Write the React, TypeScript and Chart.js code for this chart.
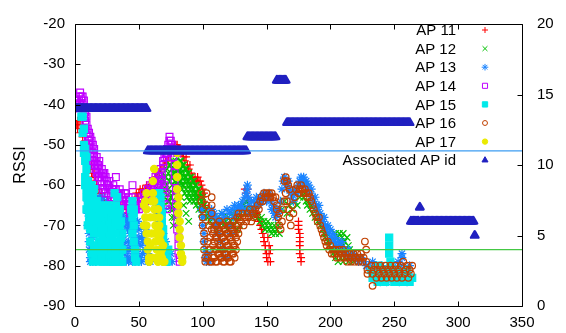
import React, { useEffect, useRef } from 'react';
import { Chart, registerables } from 'chart.js';
import { drawPoint } from 'chart.js/helpers';

Chart.register(...registerables);

// ---- data (time [s], RSSI [dBm]) ----
const ap11: [number, number][] = [
  [0,-44],[1,-45],[2,-44],[2,-46],[3,-45],[4,-44],[4,-47],[5,-46],[6,-45],[6,-48],[7,-47],
  [8,-49],[8,-51],[9,-50],[9,-53],[10,-52],[10,-55],[11,-54],[11,-50],[12,-56],[12,-53],[13,-55],[13,-58],[14,-57],[14,-60],[15,-59],[15,-56],[16,-61],[16,-58],[17,-60],[17,-62],
  [18,-61],[19,-62],[20,-63],[21,-62],[22,-64],[23,-63],[24,-65],[25,-64],[26,-66],[27,-65],[28,-64],[29,-66],[30,-65],[31,-67],[32,-66],[33,-65],[34,-67],[35,-66],[36,-65],[37,-66],[38,-67],[39,-65],[40,-66],[41,-67],[42,-66],[43,-69],[44,-66],[45,-65],
  [46,-64],[47,-63],[48,-62],[49,-63],[50,-62],[51,-61],[52,-62],[53,-61],[54,-62],[55,-61],[56,-60],[57,-61],[58,-60],[59,-61],[60,-60],[61,-59],
  [62,-59],[63,-58],[64,-58],[65,-57],[66,-57],[67,-56],[68,-56],[69,-55],[70,-55],[71,-54],[72,-54],[73,-53],[74,-52],[75,-52],[76,-51],[77,-51],[78,-50],[79,-50],[80,-50],[81,-51],[82,-51],[83,-52],
  [84,-52],[85,-53],[86,-54],[87,-53],[88,-55],[89,-56],[90,-55],[91,-57],[92,-58],[93,-59],[94,-58],[95,-59],[96,-58],[97,-59],[98,-59],
  [99,-60],[100,-61],[100,-63],[101,-62],[101,-64],[102,-65],[102,-66],
  [133,-61],[134,-62],[135,-61],[135,-63],[136,-64],
  [142,-67],[143,-68],[144,-69],[145,-70],[146,-71],[147,-72],[148,-73],[148,-74],[149,-75],[149,-76],[150,-77],[150,-78],[151,-79],[151,-73],[152,-75],[152,-77],[153,-79],[153,-76],
  [175,-69],[175,-70],[175,-71],[176,-72],[176,-73],[176,-74],[176,-75],[176,-76],[176,-77],[177,-78],[177,-79],
];

const ap12: [number, number][] = [
  [65,-61],[66,-59],[66,-63],[67,-58],[67,-62],[68,-60],[68,-64],[69,-57],[69,-61],[70,-59],[70,-63],[71,-58],[71,-62],[72,-56],[72,-60],[73,-57],[73,-61],[73,-64],[74,-55],[74,-59],[74,-62],[74,-64],[75,-55],[75,-58],[75,-63],[75,-66],[76,-56],[76,-58],[76,-60],[76,-65],[76,-68],[77,-54],[77,-57],[77,-62],[77,-66],[77,-70],
  [78,-55],[78,-57],[78,-59],[78,-68],[79,-54],[79,-57],[79,-59],[79,-61],[80,-56],[80,-58],[80,-60],[80,-64],[81,-55],[81,-56],[81,-58],[81,-62],[82,-54],[82,-57],[82,-59],[82,-60],[83,-54],[83,-56],[83,-57],[83,-59],[83,-63],[84,-55],[84,-58],[84,-60],[84,-61],[85,-55],[85,-57],[85,-60],[85,-65],[86,-56],[86,-58],[86,-59],[86,-62],[87,-56],[87,-58],[87,-61],[87,-67],[88,-57],[88,-59],[88,-60],[88,-63],[89,-57],[89,-59],[89,-62],[89,-69],[90,-58],[90,-60],[90,-61],[90,-64],[91,-58],[91,-60],[91,-63],[92,-59],[92,-61],[92,-62],[93,-59],[93,-61],[93,-64],[94,-60],[94,-62],[94,-63],[95,-60],[95,-62],[95,-65],[96,-61],[96,-63],[96,-64],[97,-61],[97,-63],[97,-66],[98,-62],[98,-65],[99,-64],[99,-67],[100,-63],[100,-66],[101,-65],[101,-68],[102,-66],[103,-67],[104,-68],[105,-67],[106,-69],
  [107,-68],[108,-70],[109,-68],[110,-69],[111,-71],[112,-68],[113,-70],[114,-69],[115,-67],[116,-70],[117,-68],[118,-69],[119,-71],[120,-68],[121,-70],[122,-69],[123,-67],[124,-70],[125,-68],[126,-69],[127,-71],[128,-68],[129,-70],
  [130,-67],[131,-66],[132,-65],[133,-67],[134,-64],[135,-66],[136,-65],[137,-67],[138,-66],[139,-68],[140,-66],[141,-67],[142,-65],[143,-68],
  [145,-69],[146,-68],[147,-70],[148,-69],[149,-71],[150,-70],[151,-69],[152,-71],[153,-70],[154,-72],[155,-71],[156,-70],[157,-72],[158,-71],[159,-70],[160,-72],
  [162,-66],[164,-64],[166,-67],[168,-65],[170,-66],[172,-64],[174,-65],[176,-63],
  [178,-62],[179,-63],[180,-62],[181,-64],[182,-65],[183,-64],[184,-66],[185,-65],[186,-67],[187,-66],[188,-68],[189,-67],[190,-69],[191,-68],[192,-70],[193,-69],
  [194,-71],[195,-72],[196,-73],[197,-72],[198,-74],[199,-75],[200,-74],[201,-76],[202,-77],[203,-76],[204,-72],[204,-78],[205,-73],[205,-77],[206,-75],[206,-79],[207,-72],[207,-76],[208,-74],[208,-78],[209,-73],[209,-77],[210,-72],[210,-75],[210,-79],[211,-74],[211,-78],[212,-76],[213,-73],[213,-77],[214,-75],[214,-79],[215,-76],[216,-78],[217,-77],[218,-79],
];

const ap13: [number, number][] = [
  [10,-64],[10,-67],[10,-70],[11,-72],[11,-74],[11,-76],[12,-68],[12,-78],[12,-79],[13,-70],[13,-77],[13,-75],[14,-79],[14,-76],[14,-73],[15,-71],[15,-78],[16,-76],[16,-79],
  [17,-63],[18,-64],[19,-63],[19,-66],[20,-65],[21,-64],[21,-66],[22,-63],[23,-66],[24,-65],[25,-64],[26,-66],
  [24,-68],[25,-70],[25,-72],[26,-74],[26,-76],[27,-78],[27,-79],[28,-77],[28,-79],
  [29,-67],[30,-66],[31,-68],[32,-67],[33,-66],[34,-66],[35,-68],[36,-67],[37,-69],[38,-68],[39,-70],[40,-69],[41,-68],[42,-70],[43,-69],[44,-68],[45,-70],[46,-69],[47,-71],[48,-70],[49,-69],[50,-71],
  [36,-71],[37,-73],[38,-72],[38,-75],[39,-74],[39,-77],[40,-76],[40,-79],[41,-71],[41,-78],[42,-74],[42,-79],[43,-72],[43,-76],[44,-75],[44,-78],[45,-79],
  [46,-77],[47,-73],[47,-79],[48,-75],[49,-74],[49,-77],[50,-73],[50,-79],[51,-75],[51,-78],[52,-73],[52,-79],[53,-74],[53,-77],
  [54,-70],[54,-72],[55,-71],[55,-74],[55,-76],[56,-74],[56,-78],[57,-77],[57,-79],[58,-79],[59,-79],
  [64,-65],[65,-64],[65,-67],[66,-66],[66,-69],[67,-68],[67,-71],[68,-70],[68,-73],[69,-72],[69,-75],[70,-66],[70,-77],[71,-74],[71,-79],[72,-76],[72,-78],[73,-77],[73,-79],[74,-79],[75,-77],[76,-79],
  [99,-66],[100,-68],[100,-70],[101,-72],[101,-74],[102,-76],[102,-78],[103,-79],[104,-77],[105,-79],
  [106,-67],[107,-66],[108,-68],[109,-67],[110,-70],[111,-68],[112,-72],[113,-69],[114,-74],[115,-67],[116,-76],[117,-68],[118,-78],[119,-66],[120,-70],[121,-67],[122,-72],[123,-66],[124,-68],[125,-65],[126,-67],[127,-66],[128,-65],
  [129,-66],[130,-65],[131,-64],[132,-66],[133,-63],[134,-62],[135,-60],[135,-61],[136,-63],[136,-65],[137,-67],[138,-64],[139,-66],[140,-64],[141,-65],[142,-63],[143,-64],[144,-65],[145,-63],[146,-64],[147,-63],[148,-62],[149,-63],[150,-64],[151,-63],[152,-62],[153,-64],[154,-66],[155,-65],[156,-67],[157,-68],[158,-66],[159,-67],[160,-66],
  [161,-64],[162,-61],[163,-59],[164,-58],[165,-59],[166,-60],[167,-59],[168,-61],[169,-62],[170,-63],
  [171,-64],[172,-62],[173,-61],[174,-62],[175,-60],[176,-59],[177,-58],[178,-59],[179,-58],[180,-60],[181,-59],[182,-61],[183,-60],[184,-62],[185,-61],[186,-63],
  [187,-64],[188,-63],[189,-65],[190,-66],[191,-65],[192,-67],[193,-68],[194,-69],[195,-68],[196,-70],[197,-71],[198,-70],
  [199,-72],[200,-71],[201,-73],[202,-72],[203,-74],[204,-73],[205,-75],[206,-74],[207,-76],[208,-75],[209,-74],[210,-76],[212,-77],[214,-76],[216,-78],[218,-77],[220,-78],[222,-79],[224,-78],[226,-79],[228,-80],
  [230,-80],[232,-81],[233,-79],[234,-82],[235,-80],[236,-83],[237,-81],[238,-82],[239,-84],[240,-80],[241,-82],[242,-83],[243,-81],[244,-84],[246,-82],[248,-80],[250,-81],[252,-82],[253,-79],[254,-84],[255,-80],[256,-77],[256,-78],[257,-82],[258,-83],[259,-81],[260,-84],[261,-82],[262,-80],
];

const ap14: [number, number][] = [
  [0,-39],[0,-40],[1,-39],[1,-41],[2,-40],[3,-38],[3,-39],[4,-37],[4,-40],[5,-38],[5,-39],[6,-38],[6,-40],[6,-41],[7,-39],[7,-41],[7,-43],[8,-42],[8,-44],[8,-46],[9,-45],[9,-43],[9,-47],[10,-46],[10,-48],[10,-50],[11,-47],[11,-49],[11,-51],[12,-48],[12,-50],[12,-52],[13,-49],[13,-51],[13,-53],[14,-52],[14,-50],[14,-54],[15,-53],[15,-51],[15,-55],[16,-54],[16,-56],[17,-53],[17,-55],[17,-57],[18,-55],[18,-58],[19,-56],[19,-54],[19,-58],[20,-57],[20,-59],[21,-56],[21,-58],[21,-60],[22,-57],[22,-61],[23,-59],[23,-57],[23,-61],[24,-58],[24,-62],[25,-60],[25,-59],[26,-60],[26,-62],[27,-61],[27,-59],[28,-62],[28,-63],[29,-61],[29,-64],[30,-60],[30,-62],[31,-63],[31,-61],[32,-58],[32,-61],[33,-62],[33,-64],[34,-63],[35,-61],[35,-64],[36,-62],[36,-65],[37,-64],[38,-63],[38,-65],[39,-62],[39,-66],[40,-64],[40,-62],[41,-65],[42,-63],[42,-65],[43,-64],[43,-67],[44,-66],[45,-60],[45,-63],[45,-66],[46,-65],[47,-64],[47,-66],[48,-66],[49,-65],[50,-64],[50,-66],[51,-65],[52,-63],[52,-65],[53,-64],[54,-62],[55,-63],[55,-64],[56,-62],[57,-61],[57,-63],[58,-62],[59,-60],[60,-61],[60,-63],[61,-59],[62,-60],[62,-62],[63,-58],[63,-61],[64,-59],[65,-57],[65,-60],[66,-58],[66,-60],[67,-56],[67,-59],[68,-57],[69,-55],[69,-54],[70,-53],[71,-52],[72,-51],[72,-53],[73,-50],[73,-52],[74,-49],[74,-48],[75,-49],[75,-51],[76,-50],
  [68,-59],[69,-61],[70,-60],[70,-63],[71,-62],[71,-65],[72,-66],
  [77,-51],[77,-53],[78,-55],[78,-57],[78,-59],[79,-61],[79,-63],[79,-65],[80,-52],[80,-67],[80,-69],[80,-71],[81,-73],[81,-75],[81,-77],[82,-78],[82,-79],
];

const ap15: [number, number][] = [
  [5,-43],[6,-43],[6,-47],[7,-46],[7,-50],[7,-52],[8,-54],[8,-51],[9,-56],[9,-53],[8,-58],[8,-60],[9,-61],[9,-63],[9,-66],[10,-59],[10,-62],[10,-65],[10,-70],[11,-61],[11,-64],[11,-67],[11,-69],[12,-63],[12,-66],[12,-71],[12,-74],[13,-60],[13,-65],[13,-68],[13,-77],[14,-63],[14,-67],[14,-70],[14,-79],[15,-61],[15,-66],[15,-72],[15,-75],[16,-64],[16,-69],[16,-78],
  [17,-64],[17,-67],[17,-71],[17,-75],[18,-66],[18,-70],[18,-72],[18,-77],[19,-66],[19,-69],[19,-74],[19,-79],[20,-65],[20,-68],[20,-72],[20,-76],[21,-71],[21,-74],[21,-78],[22,-67],[22,-70],[22,-73],[22,-79],[23,-67],[23,-72],[23,-75],[23,-78],[24,-66],[24,-70],[24,-74],[24,-77],[25,-68],[25,-76],[25,-79],[26,-65],[26,-69],[26,-72],[26,-78],[27,-66],[27,-68],[27,-71],[27,-74],[28,-68],[28,-71],[28,-76],[28,-79],[29,-70],[29,-73],[29,-75],[29,-78],[30,-67],[30,-72],[30,-75],[30,-79],[31,-62],[31,-66],[31,-74],[31,-77],[31,-79],[32,-65],[32,-69],[32,-76],[32,-79],[33,-63],[33,-68],[33,-72],[33,-78],[34,-67],[34,-70],[34,-75],[34,-79],[35,-66],[35,-70],[35,-74],[35,-78],[36,-69],[36,-73],[36,-76],[36,-79],[37,-72],[37,-76],[37,-79],
  [45,-64],[46,-66],[44,-66],[45,-68],[46,-67],[46,-70],[45,-72],[46,-74],[47,-76],[47,-78],[48,-79],
  [66,-62],[67,-63],[67,-65],[68,-67],[68,-69],[69,-71],[69,-73],[70,-75],[70,-77],[71,-79],[72,-78],[72,-79],[73,-76],
  [232,-81],[233,-83],[235,-82],[237,-84],[238,-80],[239,-83],[241,-82],[243,-84],[244,-81],[245,-83],[246,-73],[246,-75],[246,-77],[247,-79],[247,-81],[248,-83],[250,-84],[252,-83],[252,-81],[254,-84],[256,-83],[258,-84],[260,-83],[260,-81],[262,-84],[264,-83],
];

const ap16: [number, number][] = [
  [99,-62],[99,-64],[100,-66],[100,-68],[100,-70],[101,-72],[101,-74],[101,-76],[102,-78],[102,-79],[103,-62],[103,-65],
  [107,-63],[107,-65],[107,-67],[107,-69],[107,-71],
  [104,-74],[104,-78],[105,-70],[105,-76],[106,-73],[106,-76],[106,-79],[107,-79],[108,-72],[108,-75],[108,-78],[109,-71],[109,-74],[109,-78],[110,-70],[110,-73],[110,-76],[110,-79],[111,-70],[111,-73],[111,-76],[111,-79],[112,-71],[112,-74],[112,-77],[113,-69],[113,-72],[113,-75],[113,-77],[114,-72],[114,-75],[114,-78],[115,-70],[115,-73],[115,-76],[115,-78],[116,-70],[116,-73],[116,-76],[116,-79],[117,-71],[117,-74],[117,-77],[117,-79],[118,-71],[118,-74],[118,-77],[119,-69],[119,-72],[119,-75],[119,-78],[120,-72],[120,-75],[120,-78],[121,-70],[121,-73],[121,-76],[121,-79],[122,-70],[122,-73],[122,-76],[122,-79],[123,-71],[123,-74],[123,-77],[124,-69],[124,-72],[124,-75],[124,-77],[125,-72],[125,-75],[125,-78],[126,-70],[126,-73],[126,-76],[127,-68],[127,-71],[127,-74],[128,-72],
  [128,-67],[128,-70],[129,-68],[130,-69],[131,-67],[132,-70],[133,-68],[134,-69],[135,-67],[136,-68],[137,-66],[138,-69],[139,-67],[140,-68],[141,-66],[142,-67],[143,-65],[144,-66],[145,-64],
  [146,-63],[147,-64],[148,-62],[149,-63],[150,-62],[151,-63],[152,-62],[153,-63],[154,-62],[155,-63],[156,-64],[157,-63],[158,-65],
  [158,-66],[159,-68],[160,-70],[161,-71],[160,-67],[162,-69],[163,-66],[164,-64],
  [164,-59],[165,-58],[166,-59],[167,-60],[168,-61],
  [165,-62],[166,-64],[167,-66],[168,-68],[169,-70],[170,-65],[171,-67],[172,-63],[173,-61],[174,-60],[175,-62],[176,-61],[177,-60],[178,-61],[179,-62],[180,-61],[181,-62],[182,-63],[183,-62],[184,-63],[185,-64],
  [186,-65],[187,-66],[188,-67],[189,-68],[190,-69],[191,-68],[192,-70],
  [193,-71],[194,-72],[195,-73],[196,-74],[197,-75],[198,-74],[199,-76],[200,-75],[201,-77],[202,-76],[203,-77],[204,-76],[205,-78],[206,-77],[207,-76],[208,-78],[209,-77],[210,-76],[211,-78],
  [212,-77],[213,-79],[214,-78],[215,-77],[216,-79],[217,-78],[218,-77],[219,-79],[220,-78],[221,-77],[222,-79],[223,-78],[224,-77],[225,-79],[226,-78],
  [227,-74],[228,-76],[228,-79],[229,-81],[229,-82],
  [232,-80],[233,-82],[233,-85],[234,-81],[235,-80],[236,-83],[237,-81],[238,-82],[239,-80],[240,-83],[241,-81],[242,-82],[243,-80],[244,-83],[245,-81],[246,-82],[247,-80],[248,-83],[249,-81],[250,-82],[251,-80],[252,-83],[253,-81],[254,-82],[255,-80],[256,-83],[257,-79],[258,-82],[259,-81],[260,-80],[261,-83],[262,-81],[263,-82],[264,-80],
];

const ap17: [number, number][] = [
  [56,-62],[62,-56],[54,-65],[55,-64],[56,-66],[55,-68],[54,-70],[56,-70],[56,-72],[57,-74],[57,-76],[58,-78],[58,-79],
  [59,-68],[60,-64],[60,-72],[59,-75],[60,-78],
  [61,-59],[61,-62],[62,-64],[62,-66],[62,-68],[63,-70],[63,-72],[63,-74],[64,-76],[64,-78],[65,-79],
  [65,-66],[65,-71],[66,-68],[66,-70],[66,-73],[67,-72],[67,-74],[67,-77],[68,-76],[68,-78],[69,-75],[69,-79],[70,-79],
  [80,-52],[80,-55],[80,-58],[80,-61],[81,-63],[81,-65],[81,-67],[82,-69],[82,-71],[82,-73],[83,-75],[83,-77],[84,-78],[84,-79],
];

// associated AP id (right axis), one sample per second
const assocT = [
  0,1,2,3,4,5,6,7,8,9,10,11,12,13,14,15,16,17,18,19,
  20,21,22,23,24,25,26,27,28,29,30,31,32,33,34,35,36,37,38,39,
  40,41,42,43,44,45,46,47,48,49,50,51,52,53,54,55,56,57,58,59,
  60,61,62,63,64,65,66,67,68,69,70,71,72,73,74,75,76,77,78,79,
  80,81,82,83,84,85,86,87,88,89,90,91,92,93,94,95,96,97,98,99,
  100,101,102,103,104,105,106,107,108,109,110,111,112,113,114,115,116,117,118,119,
  120,121,122,123,124,125,126,127,128,129,130,131,132,133,134,135,136,137,138,139,
  140,141,142,143,144,145,146,147,148,149,150,151,152,153,154,155,156,157,158,159,
  160,161,162,163,164,165,166,167,168,169,170,171,172,173,174,175,176,177,178,179,
  180,181,182,183,184,185,186,187,188,189,190,191,192,193,194,195,196,197,198,199,
  200,201,202,203,204,205,206,207,208,209,210,211,212,213,214,215,216,217,218,219,
  220,221,222,223,224,225,226,227,228,229,230,231,232,233,234,235,236,237,238,239,
  240,241,242,243,244,245,246,247,248,249,250,251,252,253,254,255,256,257,258,259,
  260,261,262,263,264,265,266,267,268,269,270,271,272,273,274,275,276,277,278,279,
  280,281,282,283,284,285,286,287,288,289,290,291,292,293,294,295,296,297,298,299,
  300,301,302,303,304,305,306,307,308,309,310,311,312,313,
];
const assocId = [
  14,14,14,14,14,14,14,14,14,14,14,14,14,14,14,14,14,14,14,14,
  14,14,14,14,14,14,14,14,14,14,14,14,14,14,14,14,14,14,14,14,
  14,14,14,14,14,14,14,14,14,14,14,14,14,14,14,14,14,11,11,11,
  11,11,11,11,11,11,11,11,11,11,11,11,11,11,11,11,11,11,11,11,
  11,11,11,11,11,11,11,11,11,11,11,11,11,11,11,11,11,11,11,11,
  11,11,11,11,11,11,11,11,11,11,11,11,11,11,11,11,11,11,11,11,
  11,11,11,11,11,11,11,11,11,11,11,11,11,11,11,12,12,12,12,12,
  12,12,12,12,12,12,12,12,12,12,12,12,12,12,12,12,12,12,16,16,
  16,16,16,16,16,16,13,13,13,13,13,13,13,13,13,13,13,13,13,13,
  13,13,13,13,13,13,13,13,13,13,13,13,13,13,13,13,13,13,13,13,
  13,13,13,13,13,13,13,13,13,13,13,13,13,13,13,13,13,13,13,13,
  13,13,13,13,13,13,13,13,13,13,13,13,13,13,13,13,13,13,13,13,
  13,13,13,13,13,13,13,13,13,13,13,13,13,13,13,13,13,13,13,13,
  13,13,13,6,6,6,6,6,6,6,7,6,6,6,6,6,6,6,6,6,
  6,6,6,6,6,6,6,6,6,6,6,6,6,6,6,6,6,6,6,6,
  6,6,6,6,6,6,6,6,6,6,6,6,6,5,
];

const rssiThresholds = [-51.5, -76];
const thresholdColors = ['#3d9df2', '#44c844'];

const xTicks = [0, 50, 100, 150, 200, 250, 300, 350];
const yTicks = [-90, -80, -70, -60, -50, -40, -30, -20];
const y2Ticks = [0, 5, 10, 15, 20];

const FONT = '"Liberation Sans", Arial, Helvetica, sans-serif';

type Series = { label: string; data: [number, number][]; color: string; style: string; r: number; fill: boolean };

const SERIES: Series[] = [
  { label: 'AP 11', data: ap11, color: '#ff0000', style: 'cross', r: 4, fill: false },
  { label: 'AP 12', data: ap12, color: '#00c000', style: 'crossRot', r: 4.6, fill: false },
  { label: 'AP 13', data: ap13, color: '#1a84ff', style: 'star', r: 4.4, fill: false },
  { label: 'AP 14', data: ap14, color: '#c000ff', style: 'rect', r: 4.8, fill: false },
  { label: 'AP 15', data: ap15, color: '#00eaea', style: 'rect', r: 5, fill: true },
  { label: 'AP 16', data: ap16, color: '#c04000', style: 'circle', r: 3.3, fill: false },
  { label: 'AP 17', data: ap17, color: '#eaea00', style: 'circle', r: 3.6, fill: true },
];

const framePlugin = {
  id: 'gnuFrame',
  beforeDatasetDraw(chart: any, args: any) {
    const ds = chart.data.datasets[args.index];
    if (ds && ds.roundJoin) chart.ctx.lineJoin = 'round';
  },
  afterDatasetDraw(chart: any) {
    chart.ctx.lineJoin = 'miter';
  },
  afterDraw(chart: any) {
    const { ctx, chartArea: a, scales } = chart;
    ctx.save();
    ctx.strokeStyle = '#000';
    ctx.lineWidth = 1;
    const L = Math.round(a.left) + 0.5, R = Math.round(a.right) + 0.5, T = Math.round(a.top) + 0.5, B = Math.round(a.bottom) + 0.5;
    ctx.beginPath();
    ctx.rect(L, T, R - L, B - T);
    const tl = 5;
    xTicks.forEach((v) => {
      const px = Math.round(scales.x.getPixelForValue(v)) + 0.5;
      ctx.moveTo(px, B); ctx.lineTo(px, B - tl);
      ctx.moveTo(px, T); ctx.lineTo(px, T + tl);
    });
    yTicks.forEach((v) => {
      const py = Math.round(scales.y.getPixelForValue(v)) + 0.5;
      ctx.moveTo(L, py); ctx.lineTo(L + tl, py);
    });
    y2Ticks.forEach((v) => {
      const py = Math.round(scales.y2.getPixelForValue(v)) + 0.5;
      ctx.moveTo(R, py); ctx.lineTo(R - tl, py);
    });
    ctx.stroke();
    ctx.restore();
  },
};

const keyPlugin = {
  id: 'gnuKey',
  beforeDatasetsDraw(chart: any) {
    const { ctx } = chart;
    ctx.save();
    ctx.font = `15px ${FONT}`;
    ctx.textAlign = 'right';
    ctx.textBaseline = 'middle';
    let row = 0;
    chart.data.datasets.forEach((ds: any) => {
      if (!ds.inKey) return;
      const y = 30 + row * 18.6;
      ctx.fillStyle = '#000';
      ctx.fillText(ds.label, 456, y + 1);
      ctx.strokeStyle = ds.pointBorderColor;
      ctx.fillStyle = ds.pointBackgroundColor;
      ctx.lineWidth = 1;
      drawPoint(ctx, { pointStyle: ds.pointStyle, radius: ds.keyRadius, borderWidth: 1, rotation: 0 } as any, 485, y);
      row++;
    });
    ctx.restore();
  },
};

export default function App() {
  const ref = useRef<HTMLCanvasElement>(null);
  useEffect(() => {
    if (!ref.current) return;
    const toPts = (a: [number, number][]) => a.map(([x, y]) => ({ x, y }));
    const datasets: any[] = SERIES.map((s, i) => ({
      type: 'scatter',
      label: s.label,
      data: toPts(s.data),
      yAxisID: 'y',
      pointStyle: s.style,
      pointRadius: s.r,
      pointHoverRadius: s.r,
      pointBorderColor: s.color,
      pointBackgroundColor: s.fill ? s.color : 'rgba(0,0,0,0)',
      pointBorderWidth: 1.2,
      showLine: false,
      order: 10 - i,
      inKey: true,
      keyRadius: s.r * 0.75,
    }));
    datasets.push({
      type: 'scatter',
      label: 'Associated AP id',
      data: assocT.map((t, i) => ({ x: t, y: assocId[i] })),
      yAxisID: 'y2',
      pointStyle: 'triangle',
      pointRadius: 4.3,
      pointHoverRadius: 4.3,
      pointBorderColor: '#2020c0',
      pointBackgroundColor: '#2020c0',
      pointBorderWidth: 2.4,
      showLine: false,
      order: 2,
      inKey: true,
      roundJoin: true,
      keyRadius: 3.5,
    });
    rssiThresholds.forEach((t, i) => {
      datasets.push({
        type: 'scatter',
        label: 'threshold ' + t,
        data: [{ x: 0, y: t }, { x: 350, y: t }],
        yAxisID: 'y',
        showLine: true,
        borderColor: thresholdColors[i],
        borderWidth: 1.3,
        pointRadius: 0,
        pointHoverRadius: 0,
        order: 1,
        inKey: false,
      });
    });

    const tickFont = { family: FONT, size: 15 };
    const chart = new Chart(ref.current, {
      type: 'scatter',
      data: { datasets },
      options: {
        animation: false,
        responsive: false,
        devicePixelRatio: 1,
        events: [],
        layout: { padding: { top: 17, left: 0, right: 0, bottom: 0 } },
        plugins: { legend: { display: false }, tooltip: { enabled: false } },
        scales: {
          x: {
            type: 'linear', min: 0, max: 350,
            afterBuildTicks: (s: any) => { s.ticks = xTicks.map((v) => ({ value: v })); },
            afterFit: (s: any) => { s.height = 27; },
            grid: { display: false, drawTicks: false },
            border: { display: false },
            ticks: { font: tickFont, color: '#000', padding: 8, maxRotation: 0, autoSkip: false },
          },
          y: {
            type: 'linear', position: 'left', min: -90, max: -20,
            afterBuildTicks: (s: any) => { s.ticks = yTicks.map((v) => ({ value: v })); },
            afterFit: (s: any) => { s.width = 75; },
            grid: { display: false, drawTicks: false },
            border: { display: false },
            ticks: { font: tickFont, color: '#000', padding: 10, autoSkip: false },
            title: { display: true, text: 'RSSI', color: '#000', font: { family: FONT, size: 16 }, padding: { top: 11, bottom: 0 } },
          },
          y2: {
            type: 'linear', position: 'right', min: 0, max: 20,
            afterBuildTicks: (s: any) => { s.ticks = y2Ticks.map((v) => ({ value: v })); },
            afterFit: (s: any) => { s.width = 44; },
            grid: { display: false, drawTicks: false },
            border: { display: false },
            ticks: { font: tickFont, color: '#000', padding: 15, autoSkip: false },
          },
        },
      } as any,
      plugins: [framePlugin, keyPlugin],
    });
    return () => chart.destroy();
  }, []);

  return (
    <div style={{ position: 'absolute', left: 0, top: 0, width: 566, height: 333, background: '#fff' }}>
      <canvas ref={ref} width={566} height={333} style={{ display: 'block' }} />
    </div>
  );
}
